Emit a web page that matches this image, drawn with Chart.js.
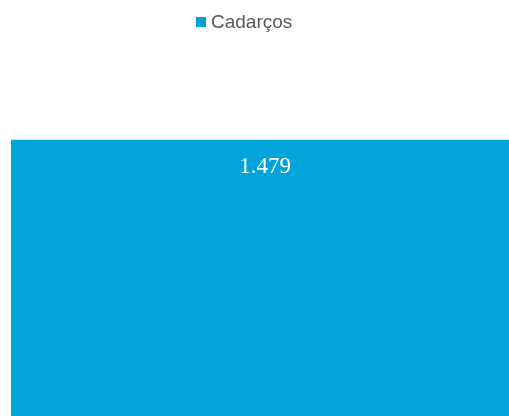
<!DOCTYPE html>
<html>
<head>
<meta charset="utf-8">
<script src="https://cdn.jsdelivr.net/npm/chart.js@4"></script>
<style>
    html, body { margin: 0; padding: 0; background: #fff; overflow: hidden; }
    #wrap { position: relative; width: 509px; height: 416px; overflow: hidden; }
    #chart { position: absolute; left: 0; top: 0; }
    #legend {
        position: absolute; top: 10px; left: 196px;
        font-family: "Liberation Sans", Arial, sans-serif; font-size: 19px; color: #595959;
        display: flex; align-items: center; white-space: nowrap; line-height: 24px;
    }
    #legend span.box { display: inline-block; width: 10px; height: 10px; background: #00A3DA; margin-right: 5px; }
</style>
</head>
<body>
<div id="wrap">
    <canvas id="chart" width="519" height="416"></canvas>
    <div id="legend"><span class="box"></span><span>Cadarços</span></div>
</div>
<script>
// 데이터
const categories = [''];
const seriesName = 'Cadarços';
const values = [1479];
const yMax = 2000;

// 막대 위 값 라벨
const valueLabels = {
    id: 'valueLabels',
    afterDatasetsDraw(chart) {
        const ctx = chart.ctx;
        const meta = chart.getDatasetMeta(0);
        ctx.save();
        ctx.fillStyle = '#ffffff';
        ctx.font = '23px "Liberation Serif", "Times New Roman", serif';
        ctx.textAlign = 'center';
        ctx.textBaseline = 'alphabetic';
        meta.data.forEach((bar, i) => {
            const text = values[i].toLocaleString('pt-BR');
            ctx.fillText(text, bar.x, bar.y + 33);
        });
        ctx.restore();
    }
};

new Chart(document.getElementById('chart').getContext('2d'), {
    type: 'bar',
    data: {
        labels: categories,
        datasets: [{
            label: seriesName,
            data: values,
            backgroundColor: '#00A3DA',
            borderWidth: 0,
            barPercentage: 1,
            categoryPercentage: 1
        }]
    },
    options: {
        responsive: false,
        animation: false,
        layout: { padding: { left: 11, top: 43, right: 0, bottom: 0 } },
        scales: {
            x: { display: false },
            y: { display: false, min: 0, max: yMax }
        },
        plugins: {
            legend: { display: false },
            tooltip: { enabled: false }
        }
    },
    plugins: [valueLabels]
});
</script>
</body>
</html>
